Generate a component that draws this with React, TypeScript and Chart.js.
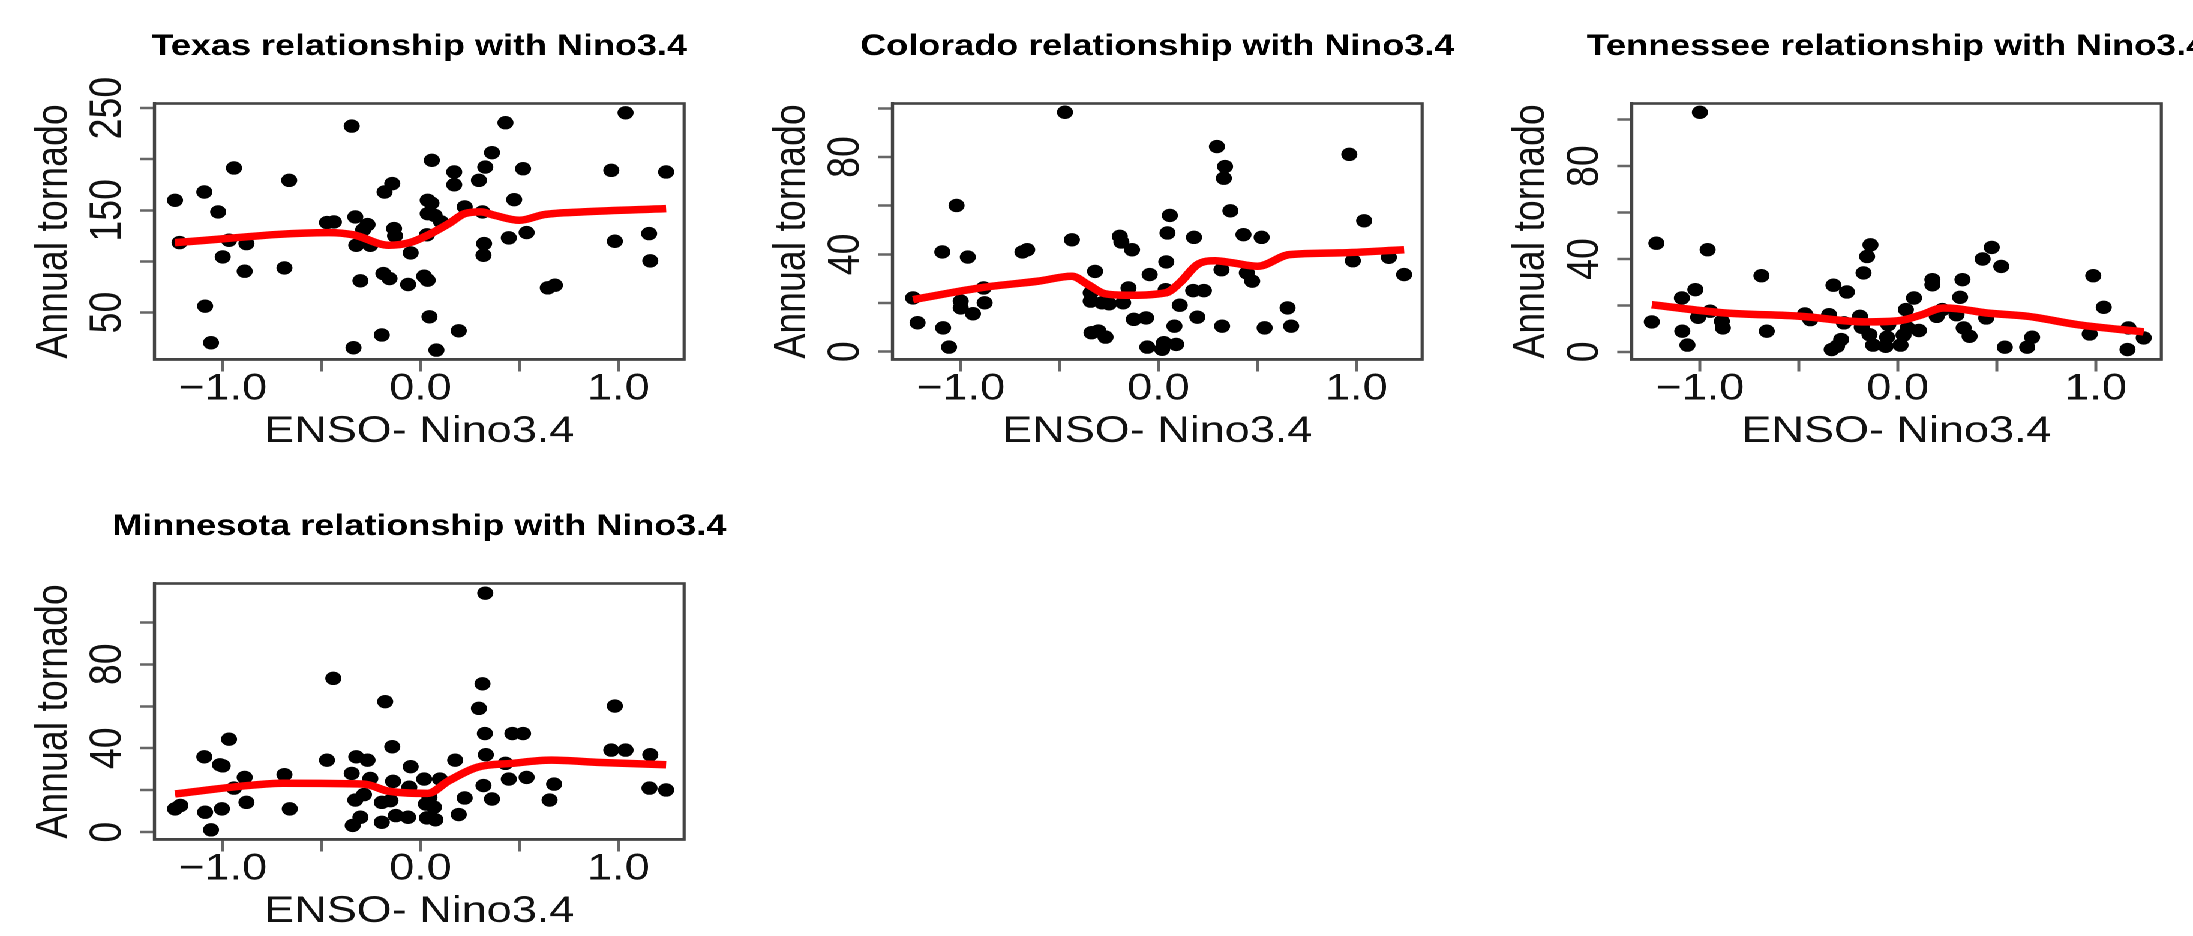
import React, { useEffect, useRef } from 'react';
import { Chart, registerables } from 'chart.js';

Chart.register(...registerables);

// ---------- shared axis data ----------
const xTicks = [-1, -0.5, 0, 0.5, 1];
const xTickLabels = ['\u22121.0', '', '0.0', '', '1.0'];
const xRange = [-1.345, 1.332];
const xAxisTitle = 'ENSO- Nino3.4';
const yAxisTitle = 'Annual tornado';

// ---------- Texas ----------
const texasX = [-1.241, -1.218, -1.093, -1.089, -1.059, -1.023, -1.0, -0.968, -0.943, -0.889, -0.88, -0.688, -0.664, -0.473, -0.438, -0.348, -0.339, -0.33, -0.325, -0.304, -0.29, -0.268, -0.254, -0.196, -0.182, -0.143, -0.188, -0.157, -0.134, -0.129, -0.063, -0.05, 0.018, 0.036, 0.032, 0.036, 0.036, 0.057, 0.045, 0.071, 0.08, 0.104, 0.055, 0.17, 0.17, 0.193, 0.223, 0.295, 0.313, 0.321, 0.318, 0.327, 0.361, 0.429, 0.446, 0.473, 0.518, 0.536, 0.643, 0.679, 0.964, 0.982, 1.036, 1.155, 1.161, 1.241];
const texasY = [159.8, 118.4, 167.9, 56.2, 20.4, 148.4, 104.4, 120.7, 191.4, 90.4, 117.4, 93.6, 179.3, 138.0, 138.6, 232.4, 15.5, 143.5, 115.8, 81.0, 131.0, 136.0, 115.8, 28.0, 167.9, 176.1, 88.1, 83.2, 132.1, 125.0, 77.4, 108.3, 85.5, 81.6, 126.0, 146.7, 159.8, 198.9, 45.8, 145.0, 13.2, 138.6, 157.0, 187.5, 175.0, 32.1, 153.3, 179.3, 148.4, 117.4, 106.0, 192.3, 206.4, 235.7, 123.0, 160.4, 190.7, 128.2, 74.1, 76.7, 189.1, 119.7, 245.4, 127.2, 100.5, 187.5];
const texasLineX = [-1.241, -0.464, -0.339, -0.161, -0.054, 0.036, 0.143, 0.223, 0.304, 0.375, 0.5, 0.625, 0.821, 1.241];
const texasLineY = [118.4, 128.2, 126.0, 115.8, 118.4, 125.6, 137.0, 146.7, 148.4, 145.0, 140.2, 145.8, 148.4, 151.6];
const texasYTicks = [50, 100, 150, 200, 250];
const texasYTickLabels = ['50', '', '150', '', '250'];
const texasYRange = [4, 254.5];

// ---------- Colorado ----------
const coloradoX = [-1.241, -1.218, -1.093, -1.089, -1.059, -1.021, -1.0, -1.0, -0.964, -0.938, -0.884, -0.879, -0.688, -0.664, -0.473, -0.438, -0.343, -0.343, -0.339, -0.321, -0.304, -0.268, -0.286, -0.25, -0.196, -0.188, -0.179, -0.152, -0.134, -0.125, -0.063, -0.057, -0.045, 0.018, 0.027, 0.036, 0.039, 0.045, 0.057, 0.08, 0.089, 0.107, 0.175, 0.179, 0.196, 0.229, 0.295, 0.318, 0.321, 0.336, 0.33, 0.363, 0.429, 0.446, 0.473, 0.521, 0.536, 0.652, 0.67, 0.964, 0.982, 1.039, 1.164, 1.241];
const coloradoY = [22.1, 11.9, 41.0, 9.8, 1.9, 60.1, 20.8, 18.0, 38.9, 15.6, 26.2, 20.1, 41.0, 41.9, 98.4, 46.0, 24.2, 20.8, 7.8, 33.0, 8.5, 6.0, 20.1, 19.7, 47.4, 45.1, 20.1, 26.2, 41.9, 13.3, 13.9, 1.9, 31.7, 1.0, 3.7, 25.5, 36.9, 48.8, 56.0, 10.5, 3.0, 19.1, 25.1, 47.0, 14.2, 25.1, 84.3, 33.7, 10.5, 76.1, 71.3, 57.9, 48.1, 32.4, 29.0, 47.0, 9.8, 18.0, 10.5, 81.1, 37.4, 53.8, 38.8, 31.7];
const coloradoLineX = [-1.241, -0.879, -0.607, -0.438, -0.357, -0.271, -0.164, 0.036, 0.107, 0.196, 0.286, 0.375, 0.5, 0.661, 0.911, 1.241];
const coloradoLineY = [21.4, 26.5, 29.0, 31.0, 27.6, 23.8, 23.2, 24.2, 28.3, 35.8, 37.4, 36.5, 35.1, 39.9, 40.6, 41.9];
const coloradoYTicks = [0, 20, 40, 60, 80, 100];
const coloradoYTickLabels = ['0', '', '40', '', '80', ''];
const coloradoYRange = [-3.2, 102];

// ---------- Tennessee ----------
const tennesseeX = [-1.243, -1.22, -1.091, -1.089, -1.063, -1.023, -1.009, -1.0, -0.961, -0.948, -0.889, -0.884, -0.689, -0.662, -0.469, -0.442, -0.347, -0.334, -0.325, -0.307, -0.286, -0.272, -0.257, -0.191, -0.182, -0.173, -0.155, -0.138, -0.143, -0.125, -0.061, -0.054, -0.048, 0.014, 0.029, 0.041, 0.05, 0.082, 0.107, 0.175, 0.175, 0.197, 0.225, 0.297, 0.315, 0.327, 0.333, 0.363, 0.429, 0.447, 0.475, 0.523, 0.541, 0.654, 0.679, 0.97, 0.988, 1.041, 1.166, 1.161, 1.243];
const tennesseeY = [12.9, 46.8, 23.2, 8.9, 2.9, 26.8, 14.9, 103.2, 44.0, 17.5, 13.2, 10.3, 32.8, 8.9, 16.3, 13.9, 16.0, 1.0, 28.7, 2.4, 5.3, 12.5, 25.8, 15.3, 10.6, 34.0, 41.1, 46.1, 7.4, 2.9, 2.4, 6.3, 11.7, 2.9, 7.2, 18.2, 10.3, 23.2, 9.2, 31.1, 28.9, 15.3, 18.2, 16.0, 23.5, 31.1, 10.3, 6.7, 40.0, 14.6, 45.0, 36.8, 2.0, 2.0, 6.3, 7.7, 32.8, 19.2, 10.3, 1.0, 6.0];
const tennesseeLineX = [-1.243, -0.88, -0.487, -0.165, 0.014, 0.122, 0.229, 0.3, 0.444, 0.658, 0.909, 1.243];
const tennesseeLineY = [20.3, 16.8, 15.3, 12.9, 13.5, 16.0, 18.9, 18.6, 16.8, 15.3, 11.7, 8.6];
const tennesseeYTicks = [0, 20, 40, 60, 80, 100];
const tennesseeYTickLabels = ['0', '', '40', '', '80', ''];
const tennesseeYRange = [-3.3, 107];

// ---------- Minnesota ----------
const minnesotaX = [-1.241, -1.214, -1.093, -1.089, -1.059, -1.014, -1.0, -1.004, -0.968, -0.943, -0.889, -0.88, -0.688, -0.661, -0.473, -0.441, -0.348, -0.343, -0.33, -0.325, -0.304, -0.286, -0.268, -0.254, -0.196, -0.196, -0.179, -0.152, -0.139, -0.143, -0.125, -0.063, -0.057, -0.05, 0.018, 0.027, 0.032, 0.045, 0.075, 0.098, 0.068, 0.175, 0.193, 0.223, 0.295, 0.313, 0.318, 0.325, 0.327, 0.33, 0.361, 0.429, 0.446, 0.464, 0.518, 0.536, 0.652, 0.675, 0.964, 1.036, 0.982, 1.161, 1.157, 1.241];
const minnesotaY = [11.1, 12.7, 35.9, 9.5, 1.1, 32.1, 31.6, 11.1, 44.3, 21.0, 26.1, 14.2, 27.4, 11.1, 34.3, 73.3, 28.0, 3.2, 15.3, 35.9, 7.1, 17.9, 34.3, 25.6, 4.7, 14.2, 62.2, 15.0, 24.2, 40.7, 7.9, 7.1, 21.4, 31.2, 25.3, 13.4, 6.8, 16.6, 5.9, 25.3, 11.9, 34.3, 8.4, 16.3, 59.0, 70.7, 22.2, 47.0, 113.9, 36.9, 15.8, 32.8, 25.3, 47.0, 47.0, 26.1, 15.3, 22.9, 39.1, 39.1, 60.1, 36.9, 21.0, 20.1];
const minnesotaLineX = [-1.241, -0.875, -0.696, -0.286, -0.161, 0.036, 0.143, 0.286, 0.464, 0.661, 0.911, 1.241];
const minnesotaLineY = [18.2, 22.2, 23.3, 22.9, 19.5, 18.5, 24.5, 30.9, 32.8, 34.3, 33.2, 32.1];
const minnesotaYTicks = [0, 20, 40, 60, 80, 100];
const minnesotaYTickLabels = ['0', '', '40', '', '80', ''];
const minnesotaYRange = [-3.5, 118.5];

// ---------- layout (unstretched units; the whole sheet is stretched by 1.2 horizontally) ----------
const STRETCH = 1.2;
const SHEET_W = 2193;
const SHEET_H = 936;
const PANEL_DX = 615.25;
const PANEL_DY = 480;
const CANVAS_W = 616;
const CANVAS_H = 480;
const AREA_LEFT = 128.7;
const AREA_RIGHT = 570.1;
const AREA_TOP = 103.5;
const AREA_BOTTOM = 359.5;
const XSCALE_H = 100;
const FONT = '"Liberation Sans", Arial, Helvetica, sans-serif';
const AXIS_SIZE = 37.5;
const TITLE_SIZE = 30;

type PanelDef = {
  title: string;
  xs: number[];
  ys: number[];
  lx: number[];
  ly: number[];
  yTicks: number[];
  yTickLabels: string[];
  yRange: number[];
  col: number;
  row: number;
};

const panels: PanelDef[] = [
  { title: 'Texas relationship with Nino3.4', xs: texasX, ys: texasY, lx: texasLineX, ly: texasLineY, yTicks: texasYTicks, yTickLabels: texasYTickLabels, yRange: texasYRange, col: 0, row: 0 },
  { title: 'Colorado relationship with Nino3.4', xs: coloradoX, ys: coloradoY, lx: coloradoLineX, ly: coloradoLineY, yTicks: coloradoYTicks, yTickLabels: coloradoYTickLabels, yRange: coloradoYRange, col: 1, row: 0 },
  { title: 'Tennessee relationship with Nino3.4', xs: tennesseeX, ys: tennesseeY, lx: tennesseeLineX, ly: tennesseeLineY, yTicks: tennesseeYTicks, yTickLabels: tennesseeYTickLabels, yRange: tennesseeYRange, col: 2, row: 0 },
  { title: 'Minnesota relationship with Nino3.4', xs: minnesotaX, ys: minnesotaY, lx: minnesotaLineX, ly: minnesotaLineY, yTicks: minnesotaYTicks, yTickLabels: minnesotaYTickLabels, yRange: minnesotaYRange, col: 0, row: 1 },
];

function Panel({ def }: { def: PanelDef }) {
  const ref = useRef<HTMLCanvasElement | null>(null);

  useEffect(() => {
    const canvas = ref.current;
    if (!canvas) return;

    const decor = {
      id: 'panelDecor',
      afterDraw(chart: any) {
        const { ctx, chartArea: a } = chart;
        ctx.save();
        // plot box
        ctx.strokeStyle = '#444';
        ctx.lineWidth = 2.6;
        ctx.strokeRect(a.left, a.top, a.right - a.left, a.bottom - a.top);
        // rotated y tick labels (R style, las = 0)
        const ys = chart.scales.y;
        ctx.fillStyle = '#111';
        ctx.font = `${AXIS_SIZE}px ${FONT}`;
        ctx.textAlign = 'center';
        ctx.textBaseline = 'middle';
        def.yTicks.forEach((v, i) => {
          const lab = def.yTickLabels[i];
          if (!lab) return;
          const py = ys.getPixelForValue(v);
          ctx.save();
          ctx.translate(90, py);
          ctx.rotate(-Math.PI / 2);
          ctx.fillText(lab, 0, 0);
          ctx.restore();
        });
        // main title
        ctx.font = `bold ${TITLE_SIZE}px ${FONT}`;
        ctx.fillStyle = '#000';
        ctx.fillText(def.title, (a.left + a.right) / 2, 46.7);
        ctx.restore();
      },
    };

    const points = def.xs.map((x, i) => ({ x, y: def.ys[i] }));
    const line = def.lx.map((x, i) => ({ x, y: def.ly[i] }));

    const chart = new Chart(canvas, {
      type: 'scatter',
      data: {
        datasets: [
          {
            label: 'lowess',
            data: line,
            showLine: true,
            borderColor: '#ff0000',
            borderWidth: 7.5,
            pointRadius: 0,
            pointHoverRadius: 0,
            cubicInterpolationMode: 'monotone',
            borderJoinStyle: 'round',
            borderCapStyle: 'butt',
            order: 0,
          } as any,
          {
            label: 'years',
            data: points,
            pointRadius: 6.7,
            pointHoverRadius: 6.7,
            pointStyle: 'circle',
            backgroundColor: '#000',
            borderColor: '#000',
            borderWidth: 0,
            order: 1,
          } as any,
        ],
      },
      options: {
        responsive: false,
        animation: false,
        devicePixelRatio: 2,
        events: [],
        layout: {
          padding: {
            top: AREA_TOP,
            left: 0,
            right: CANVAS_W - AREA_RIGHT,
            bottom: CANVAS_H - AREA_BOTTOM - XSCALE_H,
          },
        },
        plugins: {
          legend: { display: false },
          tooltip: { enabled: false },
          title: { display: false },
        },
        scales: {
          x: {
            type: 'linear',
            position: 'bottom',
            min: xRange[0],
            max: xRange[1],
            bounds: 'data',
            afterBuildTicks: (s: any) => {
              s.ticks = xTicks.map((v) => ({ value: v }));
            },
            afterFit: (s: any) => {
              s.height = XSCALE_H;
            },
            ticks: {
              autoSkip: false,
              minRotation: 0,
              maxRotation: 0,
              padding: -5,
              color: '#111',
              font: { family: FONT, size: AXIS_SIZE },
              callback: (_v: any, i: number) => xTickLabels[i],
            },
            grid: {
              display: true,
              drawOnChartArea: false,
              drawTicks: true,
              tickLength: 12,
              tickColor: '#666',
              tickWidth: 2.5,
            },
            border: { display: true, color: '#444', width: 2.6 },
            title: {
              display: true,
              text: xAxisTitle,
              color: '#111',
              font: { family: FONT, size: AXIS_SIZE },
              padding: { top: 0, bottom: 5.3 },
            },
          },
          y: {
            type: 'linear',
            position: 'left',
            min: def.yRange[0],
            max: def.yRange[1],
            bounds: 'data',
            afterBuildTicks: (s: any) => {
              s.ticks = def.yTicks.map((v) => ({ value: v }));
            },
            afterFit: (s: any) => {
              s.width = AREA_LEFT;
            },
            ticks: { display: false },
            grid: {
              display: true,
              drawOnChartArea: false,
              drawTicks: true,
              tickLength: 12,
              tickColor: '#666',
              tickWidth: 2.5,
            },
            border: { display: true, color: '#444', width: 2.6 },
            title: {
              display: true,
              text: yAxisTitle,
              color: '#111',
              font: { family: FONT, size: AXIS_SIZE },
              padding: { top: 22.5, bottom: 0 },
            },
          },
        },
      } as any,
      plugins: [decor],
    });

    return () => {
      chart.destroy();
    };
  }, [def]);

  return (
    <canvas
      ref={ref}
      width={CANVAS_W}
      height={CANVAS_H}
      style={{
        position: 'absolute',
        left: `${def.col * PANEL_DX}px`,
        top: `${def.row * PANEL_DY}px`,
        width: `${CANVAS_W}px`,
        height: `${CANVAS_H}px`,
      }}
    />
  );
}

export default function App() {
  return (
    <div
      style={{
        position: 'fixed',
        left: 0,
        top: 0,
        width: `${SHEET_W}px`,
        height: `${SHEET_H}px`,
        overflow: 'hidden',
        background: '#fff',
      }}
    >
      <div
        style={{
          position: 'absolute',
          left: 0,
          top: 0,
          width: `${SHEET_W / STRETCH}px`,
          height: `${SHEET_H}px`,
          transform: `scaleX(${STRETCH})`,
          transformOrigin: '0 0',
        }}
      >
        {panels.map((p) => (
          <Panel key={p.title} def={p} />
        ))}
      </div>
    </div>
  );
}
